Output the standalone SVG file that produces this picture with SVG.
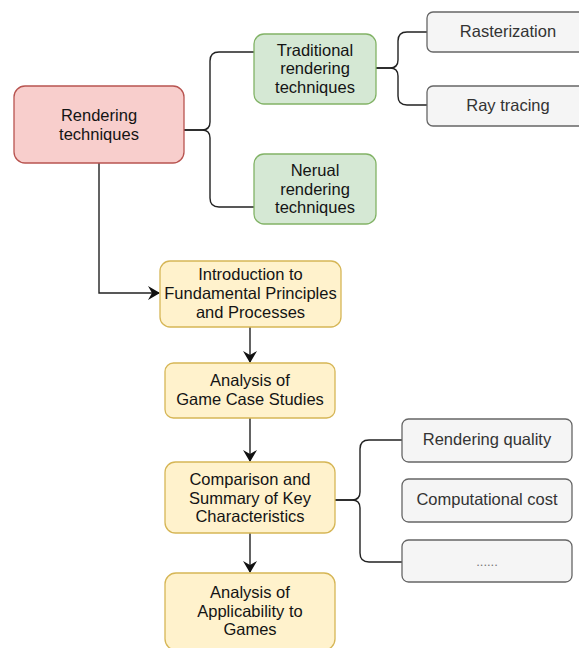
<svg xmlns="http://www.w3.org/2000/svg" width="579" height="648" viewBox="0 0 579 648">
<defs>
<style>
.t{font-family:"Liberation Sans",Arial,sans-serif;font-size:16.5px;text-anchor:middle;fill:#141414}
.g .t{fill:#333}
.g .dots{fill:#777;font-size:13px}
.red rect{fill:#f8cecc;stroke:#b85450;stroke-width:1.3}
.grn rect{fill:#d5e8d4;stroke:#82b366;stroke-width:1.3}
.yel rect{fill:#fff2cc;stroke:#d6b656;stroke-width:1.3}
.g rect{fill:#f5f5f5;stroke:#666;stroke-width:1.3}
.c{fill:none;stroke:#222;stroke-width:1.4}
</style>
<marker id="ah" viewBox="0 0 12 14" refX="11" refY="7" markerWidth="12" markerHeight="14" markerUnits="userSpaceOnUse" orient="auto">
<path d="M0,0 L12,7 L0,14 L4,7 Z" fill="#111"/>
</marker>
</defs>
<rect width="579" height="648" fill="#fff"/>
<g id="connectors">
<path class="c" d="M184,130 H202 Q210,130 210,122 V61 Q210,52 219,52 H254"/>
<path class="c" d="M184,130 H202 Q210,130 210,138 V198 Q210,207 219,207 H254"/>
<path class="c" d="M376,68 H390 Q398,68 398,60 V41 Q398,32 407,32 H427"/>
<path class="c" d="M376,68 H390 Q398,68 398,76 V96 Q398,105 407,105 H427"/>
<path class="c" d="M335,500 H352 Q360,500 360,492 V449 Q360,440 369,440 H402"/>
<path class="c" d="M335,500 H352 Q360,500 360,508 V553 Q360,562 369,562 H402"/>
<path class="c" d="M99,163 V293 H159" marker-end="url(#ah)"/>
<path class="c" d="M250,327 V362" marker-end="url(#ah)"/>
<path class="c" d="M250,418 V461" marker-end="url(#ah)"/>
<path class="c" d="M250,533 V572" marker-end="url(#ah)"/>
</g>
<g id="rendering" class="red">
<rect x="14" y="86" width="170" height="77" rx="11"/>
<text class="t" x="99" y="120.5">Rendering</text>
<text class="t" x="99" y="139.5">techniques</text>
</g>
<g id="traditional" class="grn">
<rect x="254" y="34" width="122" height="70" rx="10"/>
<text class="t" x="315" y="55.5">Traditional</text>
<text class="t" x="315" y="74">rendering</text>
<text class="t" x="315" y="92.5">techniques</text>
</g>
<g id="neural" class="grn">
<rect x="254" y="154" width="122" height="70" rx="10"/>
<text class="t" x="315" y="176">Nerual</text>
<text class="t" x="315" y="194.5">rendering</text>
<text class="t" x="315" y="213">techniques</text>
</g>
<g id="rasterization" class="g">
<rect x="427" y="12" width="162" height="40" rx="6"/>
<text class="t" x="508" y="37">Rasterization</text>
</g>
<g id="raytracing" class="g">
<rect x="427" y="86" width="162" height="40" rx="6"/>
<text class="t" x="508" y="111">Ray tracing</text>
</g>
<g id="intro" class="yel">
<rect x="160" y="261" width="181" height="66" rx="10"/>
<text class="t" x="250.5" y="280">Introduction to</text>
<text class="t" x="250.5" y="299">Fundamental Principles</text>
<text class="t" x="250.5" y="317.5">and Processes</text>
</g>
<g id="analysis" class="yel">
<rect x="165" y="363" width="170" height="55" rx="8.5"/>
<text class="t" x="250" y="386">Analysis of</text>
<text class="t" x="250" y="405">Game Case Studies</text>
</g>
<g id="comparison" class="yel">
<rect x="165" y="462" width="170" height="71" rx="10.5"/>
<text class="t" x="250" y="485">Comparison and</text>
<text class="t" x="250" y="503.5">Summary of Key</text>
<text class="t" x="250" y="522">Characteristics</text>
</g>
<g id="applicability" class="yel">
<rect x="165" y="573" width="170" height="77" rx="11"/>
<text class="t" x="250" y="598">Analysis of</text>
<text class="t" x="250" y="616.5">Applicability to</text>
<text class="t" x="250" y="635">Games</text>
</g>
<g id="quality" class="g">
<rect x="402" y="419" width="170" height="43" rx="6.5"/>
<text class="t" x="487" y="445">Rendering quality</text>
</g>
<g id="cost" class="g">
<rect x="402" y="479" width="170" height="43" rx="6.5"/>
<text class="t" x="487" y="505">Computational cost</text>
</g>
<g id="more" class="g">
<rect x="402" y="540" width="170" height="42" rx="6.5"/>
<text class="t dots" x="487" y="566">......</text>
</g>
</svg>
